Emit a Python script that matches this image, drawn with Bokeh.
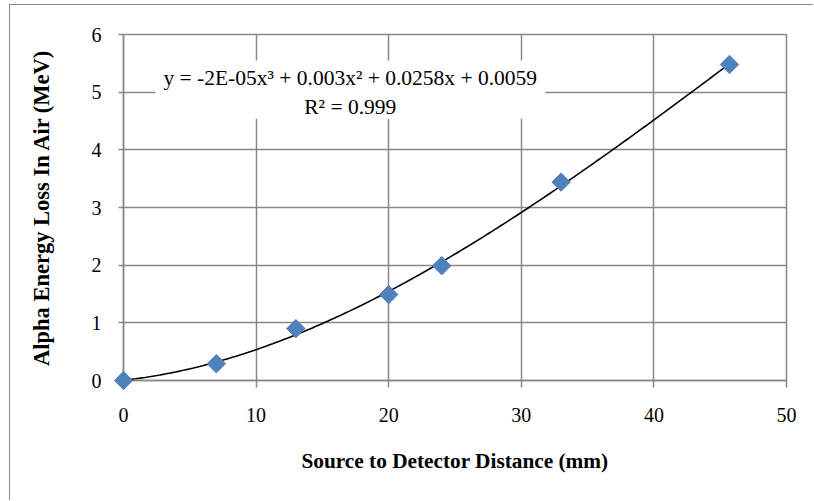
import numpy as np
from bokeh.plotting import figure
from bokeh.models import Range1d, FixedTicker, BoxAnnotation, Label, ColumnDataSource
from bokeh.embed import file_html
from bokeh.resources import INLINE

# data
distance_mm = [0, 7, 13, 20, 24, 33, 45.7]
energy_loss_mev = [0.0, 0.29, 0.90, 1.49, 1.99, 3.44, 5.48]
x_ticks = [0, 10, 20, 30, 40, 50]
y_ticks = [0, 1, 2, 3, 4, 5, 6]
equation_text = "y = -2E-05x\u00b3 + 0.003x\u00b2 + 0.0258x + 0.0059\nR\u00b2 = 0.999"

FONT = "Liberation Serif"
GRID = "#888888"

p = figure(width=804, height=496, output_backend="svg", toolbar_location=None,
           x_range=Range1d(0, 50), y_range=Range1d(0, 6),
           min_border_left=113, min_border_right=28, min_border_top=29, min_border_bottom=121)
p.background_fill_color = "white"
p.border_fill_color = "white"
p.outline_line_color = GRID
p.outline_line_width = 1.5
p.styles = {"margin-left": "9px", "margin-top": "4px",
            "border-left": "1.5px solid #888888", "border-top": "1.5px solid #888888"}

for ax, ticks in ((p.xaxis, x_ticks), (p.yaxis, y_ticks)):
    ax.ticker = FixedTicker(ticks=ticks)
    ax.axis_line_color = GRID
    ax.axis_line_width = 1.5
    ax.major_tick_line_color = GRID
    ax.major_tick_line_width = 1.5
    ax.major_tick_in = 0
    ax.minor_tick_line_color = None
    ax.major_label_text_font = FONT
    ax.major_label_text_font_size = "20px"
    ax.major_label_text_color = "black"
    ax.axis_label_text_font = FONT
    ax.axis_label_text_font_style = "bold"
    ax.axis_label_text_color = "black"

p.xaxis.axis_label_text_font_size = "21.3px"
p.yaxis.axis_label_text_font_size = "22.5px"
p.xaxis.major_tick_out = 7
p.yaxis.major_tick_out = 5
p.xaxis.major_label_standoff = 20
p.yaxis.major_label_standoff = 17
p.xaxis.axis_label = "Source to Detector Distance (mm)"
p.yaxis.axis_label = "Alpha Energy Loss In Air (MeV)"
p.xaxis.axis_label_standoff = 24
p.yaxis.axis_label_standoff = 35

for g in (p.xgrid, p.ygrid):
    g.grid_line_color = GRID
    g.grid_line_width = 1.5

# equation box
box = BoxAnnotation(left=2.4, right=31.8, bottom=4.54, top=5.55,
                    fill_color="white", fill_alpha=1.0, line_color=None, level="annotation")
p.add_layout(box)
lab = Label(x=17.1, y=4.99, text=equation_text, text_align="center", text_baseline="middle",
            text_font=FONT, text_font_size="21.5px", text_color="black", text_line_height=1.2)
p.add_layout(lab)

# trendline (cubic least-squares fit of the data)
coef = np.polyfit(distance_mm, energy_loss_mev, 3)
xf = np.linspace(min(distance_mm), max(distance_mm), 200)
p.line(xf, np.polyval(coef, xf), line_color="black", line_width=1.6)

src = ColumnDataSource(dict(x=distance_mm, y=energy_loss_mev))
r = p.scatter("x", "y", source=src, marker="square", angle=np.pi / 4, size=13,
              fill_color="#4F81BD", line_color="#4F81BD")
r.level = "overlay"

open("out.html", "w").write(file_html(p, INLINE))
